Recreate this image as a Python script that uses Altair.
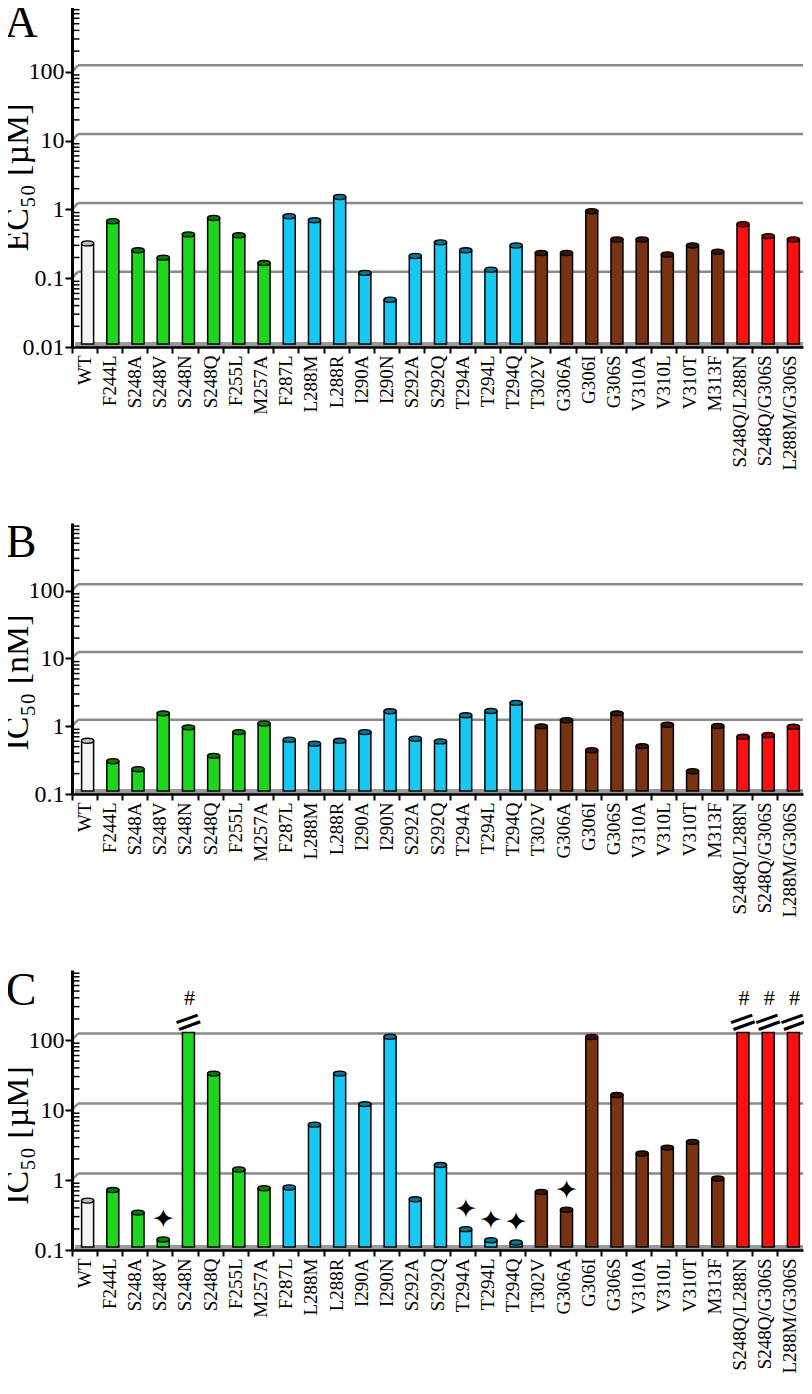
import altair as alt
import pandas as pd

mutants = ["WT", "F244L", "S248A", "S248V", "S248N", "S248Q", "F255L", "M257A",
           "F287L", "L288M", "L288R", "I290A", "I290N", "S292A", "S292Q", "T294A",
           "T294L", "T294Q", "T302V", "G306A", "G306I", "G306S", "V310A", "V310L",
           "V310T", "M313F", "S248Q/L288N", "S248Q/G306S", "L288M/G306S"]
groups = ["wt"] + ["g1"] * 7 + ["g2"] * 10 + ["g3"] * 8 + ["g4"] * 3

# Panel A: EC50 [uM]
ec50_uM = [0.29, 0.61, 0.23, 0.18, 0.39, 0.68, 0.38, 0.15, 0.72, 0.63, 1.37, 0.108,
           0.044, 0.19, 0.30, 0.23, 0.12, 0.27, 0.21, 0.21, 0.85, 0.33, 0.33, 0.20,
           0.27, 0.22, 0.55, 0.37, 0.33]
# Panel B: IC50 [nM]
ic50_nM = [0.55, 0.275, 0.21, 1.40, 0.87, 0.33, 0.74, 0.99, 0.57, 0.50, 0.55, 0.74,
           1.50, 0.59, 0.54, 1.31, 1.52, 2.0, 0.90, 1.11, 0.40, 1.40, 0.46, 0.95,
           0.196, 0.91, 0.63, 0.67, 0.89]
# Panel C: IC50 [uM]; None = above range (#)
ic50_uM = [0.46, 0.65, 0.31, 0.128, None, 30, 1.28, 0.69, 0.71, 5.6, 30, 11, 100.7,
           0.48, 1.48, 0.18, 0.125, 0.116, 0.61, 0.34, 100, 14.8, 2.16, 2.63, 3.17,
           0.95, None, None, None]
broken_cap = 116
stars_C = ["S248V", "T294A", "T294L", "T294Q", "G306A"]

group_keys = ["wt", "g1", "g2", "g3", "g4"]
bar_colors = ["#f4f4f4", "#1fd61f", "#16c8f2", "#7a3312", "#ff1010"]
top_colors = ["#bdbdbd", "#0b7a0b", "#0a7590", "#3a1606", "#8c0000"]

SERIF = "Liberation Serif"
W = 731
SPACING = 176
ELLIPSE = "M-1,0A1,0.42,0,1,1,1,0A1,0.42,0,1,1,-1,0Z"


def panel(values, domain, height, majors, grids, letter, letter_y, title, title_y,
          stars=None, anchor=None):
    rows = []
    for m, g, v in zip(mutants, groups, values):
        rows.append({"mutant": m, "grp": g,
                     "v": v if v is not None else broken_cap,
                     "broken": v is None})
    df = pd.DataFrame(rows)
    yscale = alt.Scale(type="log", domain=domain, nice=False)
    xscale = alt.Scale(domain=mutants, paddingInner=0, paddingOuter=0)
    xaxis = alt.Axis(title=None, labelAngle=-90, labelFont=SERIF, labelFontSize=19,
                     labelColor="black", domainColor="black", domainWidth=2.5,
                     tickColor="black", tickWidth=2, tickSize=6, bandPosition=0,
                     labelPadding=2, grid=False, zindex=1)
    yaxis = alt.Axis(title=None, values=majors, format="~g", labelFont=SERIF,
                     labelFontSize=24, labelColor="black", domainColor="black",
                     domainWidth=3, tickColor="black", tickWidth=2, tickSize=7,
                     labelPadding=1, grid=False, zindex=1)

    def X():
        return alt.X("mutant:N", sort=mutants, scale=xscale, axis=xaxis)

    def Y():
        return alt.Y("v:Q", scale=yscale, axis=yaxis)

    minors = []
    e = domain[0]
    while e < domain[1]:
        for k in range(2, 10):
            minors.append(k * e)
        e *= 10
    minor_df = pd.DataFrame({"v": minors})
    grid_df = pd.DataFrame({"v": grids})
    floor_df = pd.DataFrame({"v": [domain[0]]})

    grid_diag = alt.Chart(grid_df).mark_rule(color="#8a8a8a", strokeWidth=2.5,
                                             y2Offset=-6.5).encode(
        y=Y(), y2="v:Q", x=alt.value(0), x2=alt.value(6))
    grid = alt.Chart(grid_df).mark_rule(color="#8a8a8a", strokeWidth=2.5,
                                        yOffset=-6.5, y2Offset=-6.5).encode(
        y=Y(), x=alt.value(6), x2=alt.value(W))
    floor = alt.Chart(floor_df).mark_rule(color="#9a9a9a", strokeWidth=5,
                                          yOffset=-2.5, y2Offset=-2.5).encode(
        y=Y(), x=alt.value(3), x2=alt.value(W))
    minor = alt.Chart(minor_df).mark_tick(color="black", size=7, thickness=1.5,
                                          opacity=1).encode(
        y=Y(), x=alt.value(4))

    bars = alt.Chart(df).mark_bar(size=12, stroke="black", strokeWidth=1.5,
                                  xOffset=3, yOffset=-3, y2Offset=-3).encode(
        x=X(), y=Y(), y2=alt.Y2(datum=domain[0]),
        color=alt.Color("grp:N", scale=alt.Scale(domain=group_keys, range=bar_colors),
                        legend=None))
    tops = alt.Chart(df).transform_filter("!datum.broken").mark_point(
        shape=ELLIPSE, size=150, filled=True, stroke="black", strokeWidth=1.3,
        opacity=1, xOffset=3, yOffset=-3).encode(
        x=X(), y=Y(),
        fill=alt.Fill("grp:N", scale=alt.Scale(domain=group_keys, range=top_colors),
                      legend=None))

    letter_df = pd.DataFrame({"t": [letter]})
    title_df = pd.DataFrame({"t": [title]})
    letter_mark = alt.Chart(letter_df).mark_text(
        font=SERIF, fontSize=46, color="black", align="center",
        baseline="alphabetic").encode(text="t:N", x=alt.value(-51),
                                      y=alt.value(letter_y))
    title_mark = alt.Chart(title_df).mark_text(
        font=SERIF, fontSize=34, color="black", align="center", baseline="middle",
        angle=270).encode(text="t:N", x=alt.value(-54.5), y=alt.value(title_y))

    layers = [grid_diag, grid, floor, minor, bars, tops]

    if stars:
        sdf = df[df["mutant"].isin(stars)]
        layers.append(alt.Chart(sdf).mark_text(
            text="\u2726", font="DejaVu Sans", fontSize=27, color="black",
            baseline="middle", align="center", xOffset=3, yOffset=-22).encode(
            x=X(), y=Y()))
    if df["broken"].any():
        bdf = df[df["broken"]]
        layers.append(alt.Chart(bdf).mark_text(
            text="=", font="DejaVu Sans", fontSize=36, color="black",
            baseline="middle", align="center", angle=340, xOffset=3,
            yOffset=-13).encode(x=X(), y=Y()))
        layers.append(alt.Chart(bdf).mark_text(
            text="#", font=SERIF, fontSize=22, color="black",
            baseline="middle", align="center", xOffset=4, yOffset=-37).encode(
            x=X(), y=Y()))

    layers += [letter_mark, title_mark]
    if anchor is not None:
        # invisible layout anchor: fixes the outer bounds of the whole figure
        layers.append(alt.Chart(pd.DataFrame({"a": [0]})).mark_rect(
            opacity=0).encode(x=alt.value(anchor[0]), x2=alt.value(anchor[1]),
                              y=alt.value(anchor[2]), y2=alt.value(anchor[3])))
    return alt.layer(*layers).properties(
        width=W, height=height,
        view=alt.ViewBackground(stroke="transparent", strokeWidth=0))


pA = panel(ec50_uM, [0.01, 1000], 344, [0.01, 0.1, 1, 10, 100], [0.1, 1, 10, 100],
           "A", 34, "EC\u2085\u2080 [\u00b5M]", 174.5, anchor=(-90, W + 30, -60, 0))
pB = panel(ic50_nM, [0.1, 1000], 271, [0.1, 1, 10, 100], [1, 10, 100],
           "B", 34, "IC\u2085\u2080 [nM]", 159.5)
pC = panel(ic50_uM, [0.1, 1000], 280, [0.1, 1, 10, 100], [1, 10, 100],
           "C", 35, "IC\u2085\u2080 [\u00b5M]", 165.5, stars=stars_C,
           anchor=(0, 10, 0, 450))

chart = alt.vconcat(pA, pB, pC, spacing=SPACING, bounds="flush").properties(
    padding={"left": -26, "top": -65, "right": -29, "bottom": -44}
).configure_view(stroke="transparent", strokeWidth=0).configure(background="white")

chart.save("out.html", embed_options={"renderer": "svg", "actions": False})
